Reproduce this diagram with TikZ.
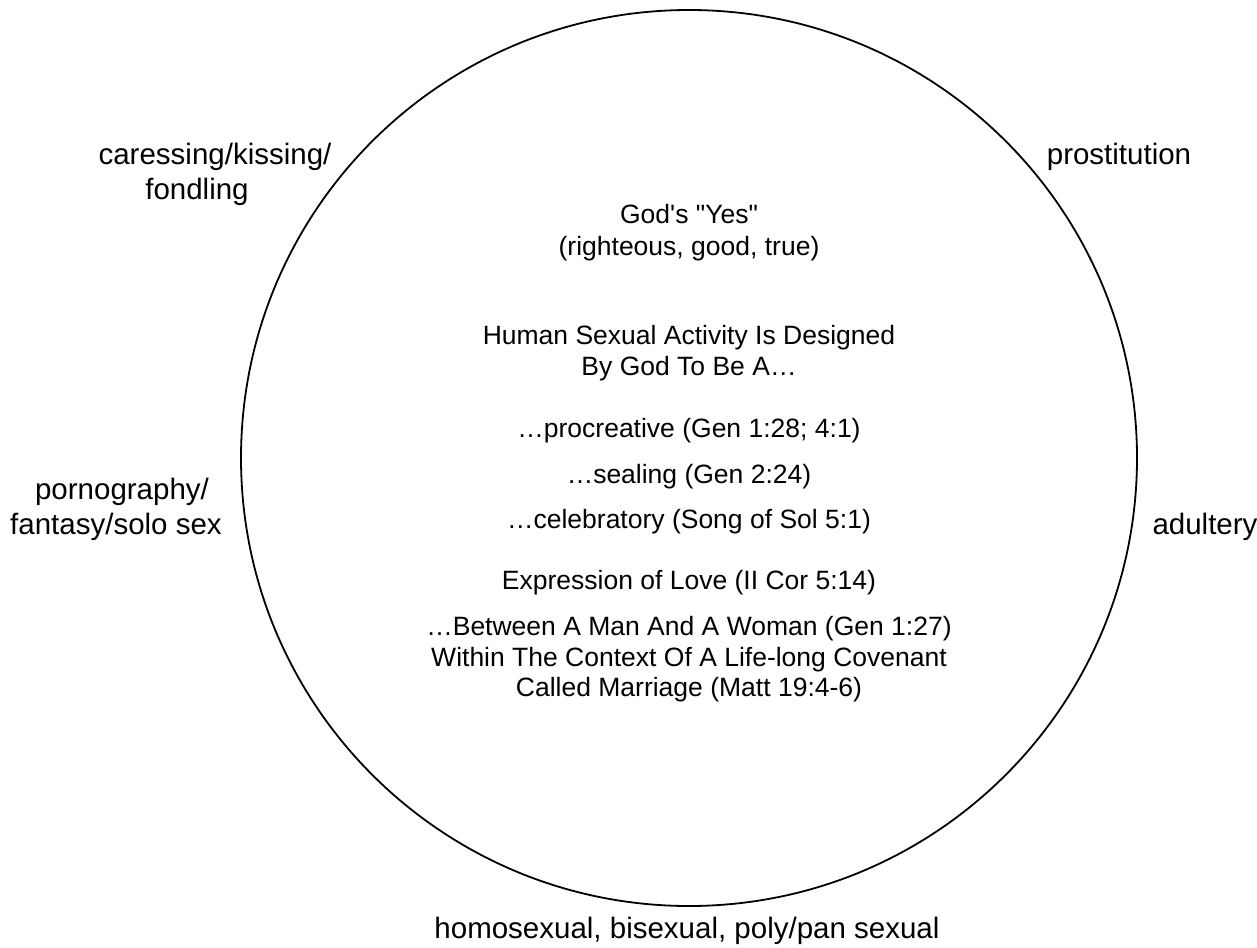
\documentclass[tikz,border=0pt]{standalone}
\usepackage{fontspec}
\setmainfont{Liberation Sans}[Ligatures=TeXOff]
\begin{document}
\begin{tikzpicture}[x=1pt,y=-1pt,
  inner/.style={anchor=base,inner sep=0pt,font=\fontsize{26.5}{32}\selectfont},
  outer/.style={anchor=base,inner sep=0pt,font=\fontsize{29.5}{35}\selectfont}]
\useasboundingbox (0,0) rectangle (1257,947);
\draw[line width=1.8pt] (689,458) circle (448);
% inner text
\node[inner] (yes1) at (689,223) {God's "Yes"};
\node[inner] (yes2) at (689,255) {(righteous, good, true)};
\node[inner] (h1) at (689,344) {Human Sexual Activity Is Designed};
\node[inner] (h2) at (689,375) {By God To Be A…};
\node[inner] (p1) at (689,437) {…procreative (Gen 1:28; 4:1)};
\node[inner] (p2) at (689,483) {…sealing (Gen 2:24)};
\node[inner] (p3) at (689,528) {…celebratory (Song of Sol 5:1)};
\node[inner] (e1) at (689,589) {Expression of Love (II Cor 5:14)};
\node[inner] (b1) at (689,635) {…Between A Man And A Woman (Gen 1:27)};
\node[inner] (b2) at (689,666) {Within The Context Of A Life-long Covenant};
\node[inner] (b3) at (689,696) {Called Marriage (Matt 19:4-6)};
% outer labels
\node[outer] (c1) at (215,164) {caressing/kissing/};
\node[outer] (c2) at (197,199) {fondling};
\node[outer] (pr) at (1119,164) {prostitution};
\node[outer] (po1) at (122,499) {pornography/};
\node[outer] (po2) at (116,534) {fantasy/solo sex};
\node[outer] (ad) at (1205,534) {adultery};
\node[outer] (ho) at (687,938) {homosexual, bisexual, poly/pan sexual};
\end{tikzpicture}
\end{document}
